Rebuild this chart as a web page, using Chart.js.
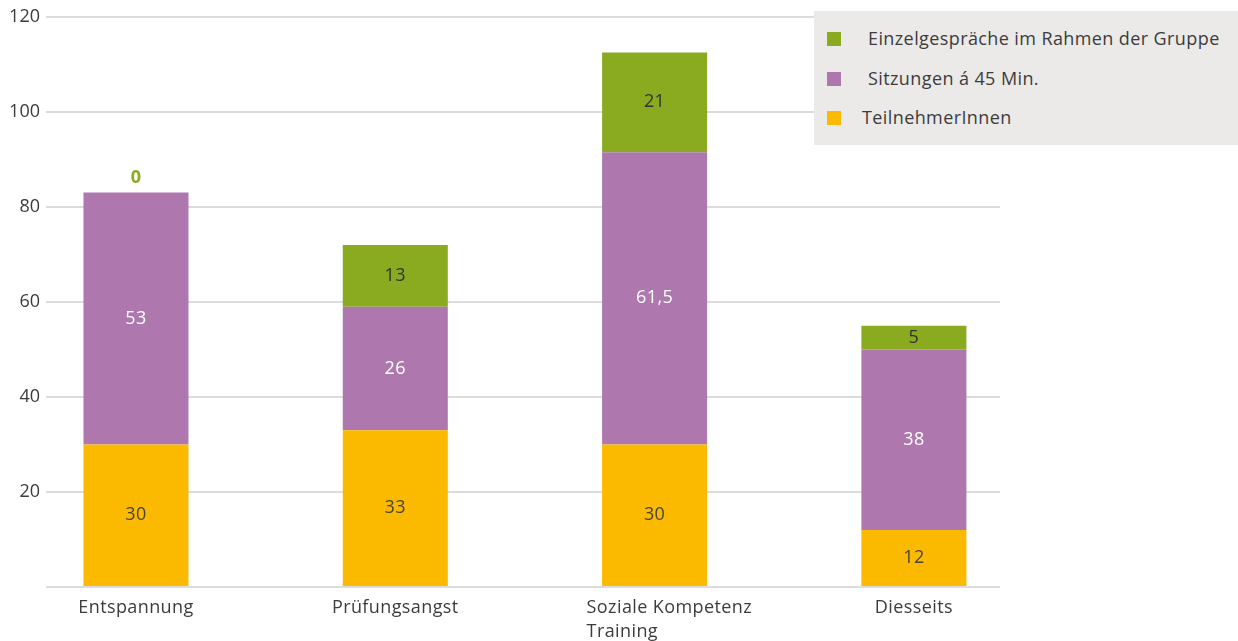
<!DOCTYPE html>
<html>
<head>
<meta charset="utf-8">
<title>Gruppenangebote</title>
<script src="https://cdn.jsdelivr.net/npm/chart.js@4"></script>
<style>
  html, body { margin: 0; padding: 0; background: #fff; }
  #wrap { position: relative; width: 1238px; height: 641px; }
  #legend {
    position: absolute; left: 814px; top: 11px; width: 424px; height: 134px;
    background: #ebeae8; font: 18px 'Open Sans', sans-serif; color: #3c3c3c;
    letter-spacing: 0.4px;
  }
  .item { position: absolute; left: 13px; height: 20px; line-height: 20px; white-space: nowrap; }
  .item span.box { position: absolute; left: 0; top: 3px; width: 14px; height: 14px; }
  .item span.txt { position: absolute; left: 41px; top: -1px; }
</style>
</head>
<body>
<div id="wrap">
  <canvas id="chart" width="1238" height="641"></canvas>
  <div id="legend"></div>
</div>
<script>
const categories = ['Entspannung', 'Prüfungsangst', ['Soziale Kompetenz', 'Training'], 'Diesseits'];
const teilnehmer = [30, 33, 30, 12];
const sitzungen = [53, 26, 61.5, 38];
const einzelgespraeche = [0, 13, 21, 5];
const yTicks = [0, 20, 40, 60, 80, 100, 120];

const FONT = "'Open Sans', sans-serif";
const TEXT = '#3c3c3c';

const toPoints = arr => arr.map((v, i) => ({ x: i, y: v }));

// value labels inside each segment; zero values go above the stack
const valueLabels = {
  id: 'valueLabels',
  afterDatasetsDraw(chart) {
    const ctx = chart.ctx;
    ctx.save();
    ctx.textAlign = 'center';
    ctx.textBaseline = 'middle';
    ctx.letterSpacing = '0.4px';
    chart.data.datasets.forEach((ds, di) => {
      chart.getDatasetMeta(di).data.forEach((bar, i) => {
        const v = ds.data[i].y;
        const text = String(v).replace('.', ',');
        if (v === 0) {
          ctx.font = 'bold 18px ' + FONT;
          ctx.fillStyle = ds.backgroundColor;
          ctx.fillText(text, bar.x, bar.y - 15);
        } else {
          ctx.font = '18px ' + FONT;
          ctx.fillStyle = ds.labelColor;
          ctx.fillText(text, bar.x, (bar.y + bar.base) / 2);
        }
      });
    });
    ctx.restore();
  }
};

// category names under the bars, wrapped names are left aligned
const categoryLabels = {
  id: 'categoryLabels',
  afterDraw(chart) {
    const ctx = chart.ctx;
    const xs = chart.scales.x;
    ctx.save();
    ctx.font = '18px ' + FONT;
    ctx.fillStyle = TEXT;
    ctx.textBaseline = 'middle';
    ctx.letterSpacing = '0.4px';
    categories.forEach((label, i) => {
      const cx = xs.getPixelForValue(i);
      const lines = Array.isArray(label) ? label : [label];
      lines.forEach((line, li) => {
        if (lines.length > 1) {
          ctx.textAlign = 'left';
          ctx.fillText(line, cx - 68, 608 + li * 24);
        } else {
          ctx.textAlign = 'center';
          ctx.fillText(line, cx, 608);
        }
      });
    });
    ctx.restore();
  }
};

const chart = new Chart(document.getElementById('chart'), {
  type: 'bar',
  data: {
    datasets: [
      { label: 'TeilnehmerInnen', data: toPoints(teilnehmer), backgroundColor: '#fbb900', labelColor: '#4a4538' },
      { label: 'Sitzungen á 45 Min.', data: toPoints(sitzungen), backgroundColor: '#ae78ae', labelColor: '#ffffff' },
      { label: 'Einzelgespräche im Rahmen der Gruppe', data: toPoints(einzelgespraeche), backgroundColor: '#8aab1f', labelColor: '#333333' }
    ]
  },
  options: {
    responsive: false,
    animation: false,
    layout: { padding: { top: 16, right: 238, bottom: 54, left: 0 } },
    datasets: { bar: { categoryPercentage: 1, barPercentage: 0.405 } },
    plugins: { legend: { display: false }, tooltip: { enabled: false } },
    scales: {
      x: {
        type: 'linear',
        display: false,
        stacked: true,
        offset: false,
        grid: { offset: false },
        min: -0.347,
        max: 3.332,
        afterBuildTicks(scale) {
          scale.ticks = categories.map((c, i) => ({ value: i }));
        }
      },
      y: {
        stacked: true,
        min: 0,
        max: 120,
        border: { display: false },
        grid: { color: '#dcdcdc', lineWidth: 2, drawTicks: false },
        ticks: {
          padding: 6,
          color: TEXT,
          font: { family: FONT, size: 18 },
          callback: v => (v === 0 ? '' : v)
        },
        afterBuildTicks(scale) {
          scale.ticks = yTicks.map(v => ({ value: v }));
        },
        afterFit(scale) {
          scale.width = 46;
        }
      }
    }
  },
  plugins: [valueLabels, categoryLabels]
});

// legend box, top entry is the top segment of the stack
const legend = document.getElementById('legend');
chart.data.datasets.slice().reverse().forEach((ds, i) => {
  const item = document.createElement('div');
  item.className = 'item';
  item.style.top = (18 + i * 39.5) + 'px';
  const box = document.createElement('span');
  box.className = 'box';
  box.style.background = ds.backgroundColor;
  const txt = document.createElement('span');
  txt.className = 'txt';
  txt.textContent = ds.label;
  if (i === 2) txt.style.left = '35px';
  item.appendChild(box);
  item.appendChild(txt);
  legend.appendChild(item);
});
</script>
</body>
</html>
